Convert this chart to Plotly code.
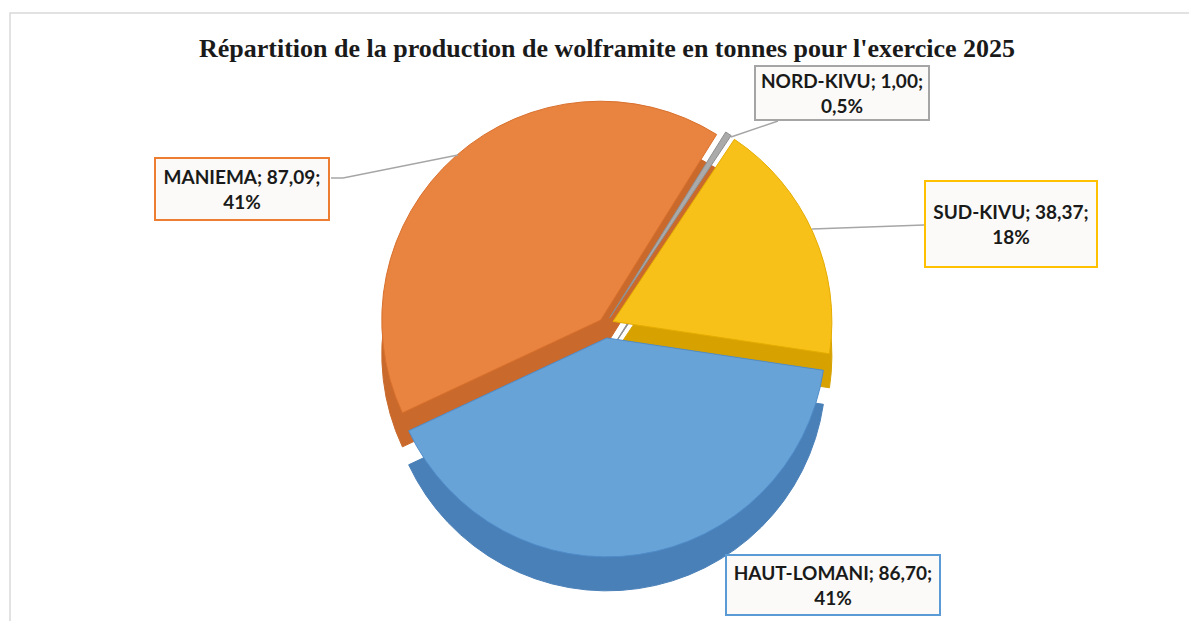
import plotly.graph_objects as go

# ---- data ----
regions = ["NORD-KIVU", "SUD-KIVU", "HAUT-LOMANI", "MANIEMA"]
tonnes = [1.00, 38.37, 86.70, 87.09]
top_colors = ["#AAAAAA", "#F8C11A", "#68A3D8", "#E8843F"]
side_colors = ["#8C8C8C", "#D7A200", "#4A80B8", "#C9692B"]
edge_colors = ["#8F8F8F", "#E5AC00", "#4F8CC9", "#D9702E"]
box_colors = ["#A5A5A5", "#FFC000", "#5B9BD5", "#ED7D31"]
pulls = [0.04, 0.04, 0.06, 0.03]
title = "Répartition de la production de wolframite en tonnes pour l'exercice 2025"

W, H = 1197, 621
OFF = 8  # default page body margin
total = sum(tonnes)


def fr_num(v):
    return f"{v:.2f}".replace(".", ",")


def fr_pct(v):
    p = v / total * 100
    s = f"{p:.1f}" if p < 1 else f"{p:.0f}"
    return s.replace(".", ",") + "%"


def px(x):
    return (x - OFF) / W


def py(y):
    return 1 - (y - OFF) / H


cx, cy, R = 605, 325, 232
depth = 34

fig = go.Figure()

# side (thickness) layer
fig.add_trace(go.Pie(
    labels=regions, values=tonnes, sort=False, direction="clockwise", rotation=32,
    pull=pulls, textinfo="none", hoverinfo="skip", showlegend=False,
    marker=dict(colors=side_colors, line=dict(color=side_colors, width=1)),
    domain=dict(x=[px(cx - R), px(cx + R)], y=[py(cy + depth + R), py(cy + depth - R)]),
))
# top face
fig.add_trace(go.Pie(
    labels=regions, values=tonnes, sort=False, direction="clockwise", rotation=32,
    pull=pulls, textinfo="none", showlegend=False,
    hovertemplate="%{label}: %{value:.2f} t (%{percent})<extra></extra>",
    marker=dict(colors=top_colors, line=dict(color=edge_colors, width=1)),
    domain=dict(x=[px(cx - R), px(cx + R)], y=[py(cy + R), py(cy - R)]),
))

# label boxes: (center x, center y, width, height) in pixels
boxes = {
    "NORD-KIVU": (842, 93, 168, 48),
    "SUD-KIVU": (1011, 224, 166, 80),
    "HAUT-LOMANI": (833, 585, 208, 54),
    "MANIEMA": (242, 189, 168, 56),
}
leaders = {
    "NORD-KIVU": [(778, 121), (731, 137)],
    "SUD-KIVU": [(924, 225), (812, 229)],
    "HAUT-LOMANI": [],
    "MANIEMA": [(331, 178), (343, 178), (458, 155)],
}

shapes = [
    dict(type="rect", xref="paper", yref="paper",
         x0=px(10), x1=1.02, y0=-0.02, y1=py(13),
         line=dict(color="#D9D9D9", width=1.5), fillcolor="rgba(0,0,0,0)", layer="below"),
]
annotations = []
for name, v, bc in zip(regions, tonnes, box_colors):
    bx, by, bw, bh = boxes[name]
    annotations.append(dict(
        x=px(bx), y=py(by), xref="paper", yref="paper", showarrow=False,
        xanchor="center", yanchor="middle",
        text=f"<b>{name}; {fr_num(v)};<br>{fr_pct(v)}</b>",
        font=dict(family="Lato, 'Open Sans', sans-serif", size=19, color="#1A1A1A"),
        align="center", valign="middle",
        width=bw, height=bh,
        bgcolor="#FBFAF8", bordercolor=bc, borderwidth=2, borderpad=2,
    ))
    pts = leaders[name]
    for (x0, y0), (x1, y1) in zip(pts[:-1], pts[1:]):
        shapes.append(dict(type="line", xref="paper", yref="paper",
                           x0=px(x0), y0=py(y0), x1=px(x1), y1=py(y1),
                           line=dict(color="#A6A6A6", width=1.5)))

fig.update_layout(
    width=W, height=H,
    margin=dict(l=0, r=0, t=0, b=0),
    paper_bgcolor="white", plot_bgcolor="white",
    title=dict(text=f"<b>{title}</b>", x=px(607), xanchor="center",
               y=py(48), yanchor="middle", yref="container",
               font=dict(family="'Liberation Serif', serif", size=26, color="#1A1A1A")),
    shapes=shapes, annotations=annotations,
)

fig.write_html("out.html")
